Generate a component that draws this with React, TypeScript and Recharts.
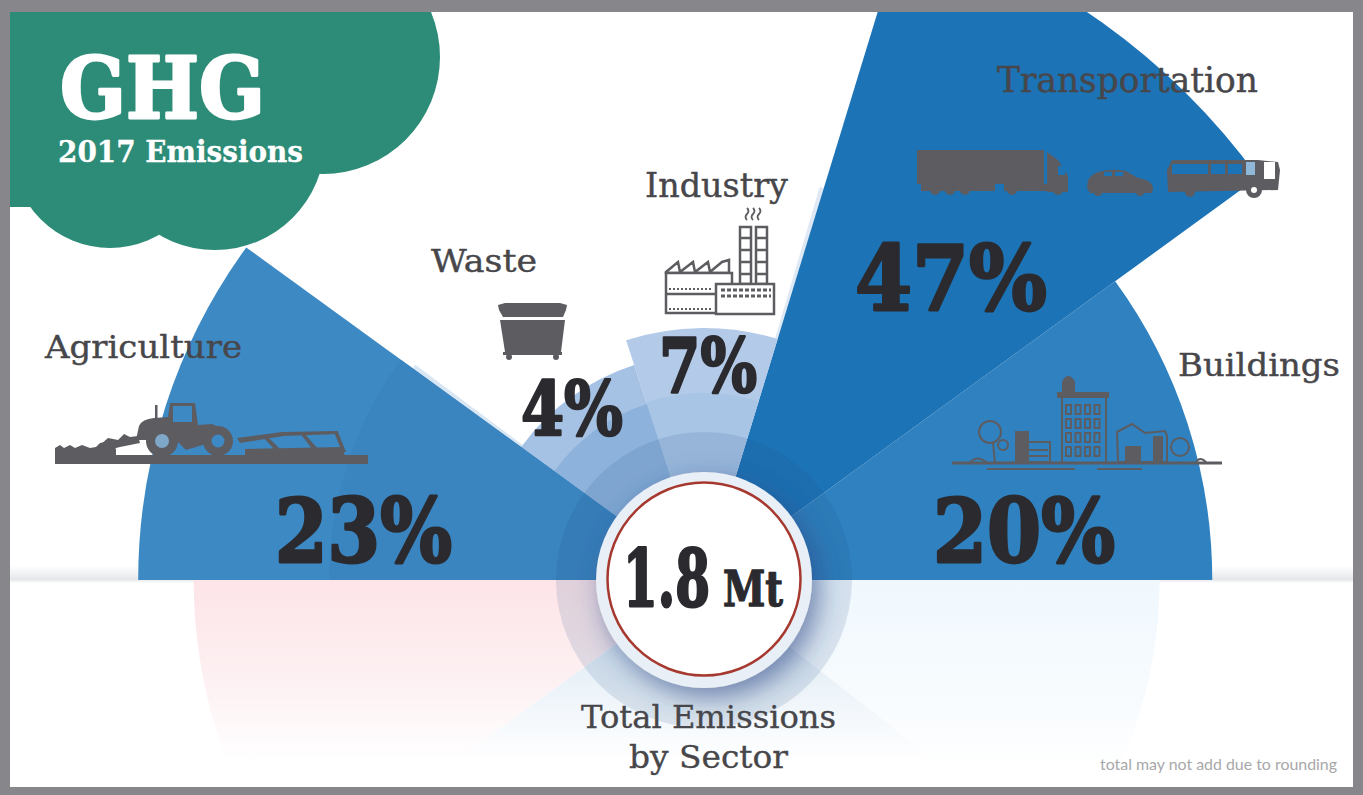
import React from 'react'
import { PieChart, Pie } from 'recharts'

// sectors run anticlockwise from the right-hand baseline
const categories = ['Buildings', 'Transportation', 'Industry', 'Waste', 'Agriculture']
const sharePercent = [20, 47, 7, 4, 23]
// wedge sweep in degrees and wedge length as % of the longest one
const sweepDegrees = [36, 37, 35, 36, 36]
const reachPercent = [74.2, 100, 36.8, 33, 82.6]
const bandPercent = [0, 0, 27.3, 27, 54.7]

const mirrorSweep = [38, 106, 36]
const mirrorReach = [66.5, 62, 74.5]

const totalMt = '1.8'

const WIDTH = 1363
const HEIGHT = 795
const CX = 704
const CY = 580
const MAX_R = 685

const wedgeColors = ['#2f81bf', '#1c73b6', '#b3cbe9', '#a5c1e3', '#3d89c4']
const bandColors = ['#2f81bf', '#1c73b6', '#a9c5e5', '#8db2dc', '#3a84bf']
const mirrorColors = ['url(#mirrorBlue)', 'url(#mirrorMid)', 'url(#mirrorPink)']

const GREY = '#5d5c61'
const INK = '#2a2a2f'
const LABEL = '#47474b'
const SLAB = '"DejaVu Serif", serif'

const startAngles = sweepDegrees.map((_, i) => sweepDegrees.slice(0, i).reduce((a, b) => a + b, 0))
const rows = categories.map((name, i) => ({ name, value: sharePercent[i] }))

interface LabelProps {
  x: number
  y: number
  w: number
  size: number
  fill: string
  bold?: boolean
  family?: string
  stretch?: number
  heavy?: number
  children: React.ReactNode
}

function Label({ x, y, w, size, fill, bold, family, stretch = 1, heavy = 0, children }: LabelProps) {
  return (
    <text
      transform={`translate(${x} ${y}) scale(1 ${stretch})`}
      textLength={w}
      lengthAdjust="spacingAndGlyphs"
      fontSize={size}
      fill={fill}
      stroke={heavy ? fill : 'none'}
      strokeWidth={heavy}
      strokeLinejoin="round"
      fontWeight={bold ? 700 : 400}
      fontFamily={family ?? SLAB}
    >
      {children}
    </text>
  )
}

function TractorIcon() {
  return (
    <g fill={GREY}>
      <rect x={55} y={455} width={313} height={9} />
      <polygon points="55,448 60,445 64,448 70,445 75,448 82,445 90,448 96,447 100,443 110,441 116,449 116,456 55,456" />
      <polygon points="100,445 108,438 118,440 124,434 130,437 138,436 140,443 120,447 112,449" />
      <path d="M136 440 L139 426 Q142 419 154 418 L168 417 L170 403 L195 403 L198 425 L212 424 Q224 428 226 438 L186 450 L176 440 L150 440 Z" />
      <rect x={173} y={406} width={19} height={16} fill="#3d89c4" />
      <rect x={155} y={405} width={2.5} height={13} />
      <circle cx={162} cy={441} r={16} />
      <circle cx={162} cy={441} r={7} fill="#7fa8c8" />
      <circle cx={218} cy={441} r={15} />
      <circle cx={218} cy={441} r={6.5} fill="#3d89c4" />
      <polygon points="237,438 282,432 338,431 338,434 284,436 240,443" />
      <polygon points="245,449 342,447 345,456 245,456" />
      <polygon points="262,436 266,435 280,449 274,449" />
      <polygon points="300,433 304,433 318,449 312,449" />
      <polygon points="334,432 338,432 346,452 342,452" />
    </g>
  )
}

function DumpsterIcon() {
  return (
    <g fill={GREY}>
      <polygon points="498,305 505,303 560,303 567,305 566,310 563,317 503,317 499,310" />
      <polygon points="500,320 565,320 561,352 505,352" />
      <rect x={503} y={352} width={59} height={3} />
      <circle cx={509} cy={357} r={3} />
      <circle cx={556} cy={357} r={3} />
    </g>
  )
}

function FactoryIcon() {
  return (
    <g fill="none" stroke={GREY} strokeWidth={2.5}>
      <path d="M666 272 L678 262 L680 272 L693 262 L695 272 L708 262 L710 272 L722 262 L729 260 L729 273 L666 273 Z" />
      <rect x={666} y={273} width={66} height={40} fill="#fff" />
      <line x1={666} y1={294} x2={715} y2={294} />
      <rect x={740} y={227} width={11} height={57} fill="#fff" />
      <rect x={756} y={227} width={11} height={57} fill="#fff" />
      <path d="M740 238h11M740 250h11M740 262h11M740 274h11M756 238h11M756 250h11M756 262h11M756 274h11" />
      <rect x={716} y={284} width={58} height={30} fill="#fff" />
      <path d="M721 290h50M721 296h50" strokeDasharray="4 2" strokeWidth={3} />
      <path d="M669 289h44M669 309h44" strokeDasharray="2 2" strokeWidth={2} />
      <path d="M747 208q3 3 0 6q-3 3 0 6M753 208q3 3 0 6q-3 3 0 6M759 208q3 3 0 6q-3 3 0 6" strokeWidth={1.8} />
    </g>
  )
}

function TransportIcons() {
  return (
    <g fill={GREY}>
      <rect x={917} y={150} width={127} height={34} />
      <path d="M1047 152 L1058 160 L1068 176 L1068 192 L1047 192 Z" />
      <rect x={1058} y={166} width={7} height={9} fill="#1c73b6" />
      <rect x={921} y={184} width={74} height={7} />
      <rect x={1004} y={184} width={46} height={7} />
      <circle cx={935} cy={190} r={5} />
      <circle cx={950} cy={190} r={5} />
      <circle cx={965} cy={190} r={5} />
      <circle cx={1012} cy={190} r={5} />
      <circle cx={1058} cy={190} r={5} />
      <path d="M1088 180 Q1092 174 1098 172 Q1112 168 1126 171 L1138 178 Q1152 180 1153 188 L1152 193 L1090 193 L1087 188 Z" />
      <rect x={1104} y={172} width={8} height={4} fill="#1c73b6" />
      <rect x={1115} y={172} width={8} height={4} fill="#1c73b6" />
      <circle cx={1098} cy={192} r={4} />
      <circle cx={1140} cy={192} r={4} />
      <path d="M1172 160 L1258 160 L1278 162 L1280 170 L1278 190 L1168 192 L1167 170 Z" />
      <rect x={1172} y={164} width={36} height={10} fill="#1c73b6" />
      <rect x={1211} y={164} width={14} height={10} fill="#1c73b6" />
      <rect x={1228} y={164} width={14} height={10} fill="#1c73b6" />
      <rect x={1246} y={162} width={9} height={13} fill="#8fb8d8" />
      <rect x={1264} y={162} width={11} height={17} fill="#fff" />
      <circle cx={1254} cy={190} r={8} />
      <circle cx={1254} cy={190} r={3} fill="#fff" />
      <circle cx={1190} cy={192} r={5} />
    </g>
  )
}

function CityIcon() {
  const windows: React.ReactNode[] = []
  for (let c = 0; c < 4; c++) {
    for (let r = 0; r < 4; r++) {
      windows.push(<rect key={`${c}-${r}`} x={1066 + c * 9.5} y={405 + r * 14} width={5} height={9} />)
    }
  }
  return (
    <g fill="none" stroke={GREY} strokeWidth={2}>
      <line x1={952} y1={463} x2={1222} y2={463} strokeWidth={3} />
      <line x1={987} y1={469} x2={1075} y2={469} />
      <line x1={1097} y1={469} x2={1142} y2={469} />
      <rect x={1062} y={397} width={44} height={66} />
      <rect x={1058} y={393} width={50} height={4} fill={GREY} />
      <path d="M1063 393 L1063 382 Q1068 372 1074 382 L1074 393 Z" fill={GREY} />
      {windows}
      <circle cx={990} cy={432} r={11} />
      <line x1={993} y1={443} x2={995} y2={463} />
      <circle cx={1003} cy={445} r={5} />
      <rect x={1016} y={432} width={12} height={30} fill={GREY} />
      <rect x={1024} y={442} width={26} height={20} />
      <path d="M1028 450h20M1028 456h20" />
      <path d="M1117 432 L1132 424 L1145 433 L1165 431 L1167 436 L1167 462 L1118 462 Z" />
      <rect x={1126} y={447} width={14} height={15} fill={GREY} />
      <rect x={1154} y={437} width={8} height={25} fill={GREY} />
      <circle cx={1180} cy={447} r={9} />
      <path d="M1196 462 Q1200 456 1206 462" />
      <path d="M970 462 Q978 455 986 462" />
    </g>
  )
}

export default function App() {
  return (
    <div style={{ position: 'absolute', left: 0, top: 0, width: WIDTH, height: HEIGHT, background: '#fff', overflow: 'hidden' }}>
      <svg width={WIDTH} height={HEIGHT} style={{ position: 'absolute', left: 0, top: 0 }}>
        <defs>
          <linearGradient id="baseline" x1="0" y1="0" x2="0" y2="1">
            <stop offset="0" stopColor="#d3d7dd" stopOpacity={0} />
            <stop offset="0.8" stopColor="#d3d7dd" stopOpacity={0.6} />
            <stop offset="1" stopColor="#d3d7dd" stopOpacity={0} />
          </linearGradient>
        </defs>
        <rect x={10} y={566} width={1343} height={17} fill="url(#baseline)" />
      </svg>

      <div style={{ position: 'absolute', left: 0, top: 0 }}>
        <PieChart width={WIDTH} height={HEIGHT} margin={{ top: 0, right: 0, bottom: 0, left: 0 }}>
          <defs>
            <linearGradient id="mirrorPink" gradientUnits="userSpaceOnUse" x1={0} y1={CY} x2={0} y2={760}>
              <stop offset="0" stopColor="#fde4e8" />
              <stop offset="0.55" stopColor="#fdf0f2" />
              <stop offset="1" stopColor="#ffffff" />
            </linearGradient>
            <linearGradient id="mirrorBlue" gradientUnits="userSpaceOnUse" x1={0} y1={CY} x2={0} y2={770}>
              <stop offset="0" stopColor="#f0f8fe" />
              <stop offset="0.6" stopColor="#f7fbfe" />
              <stop offset="1" stopColor="#ffffff" />
            </linearGradient>
            <linearGradient id="mirrorMid" gradientUnits="userSpaceOnUse" x1={0} y1={650} x2={0} y2={760}>
              <stop offset="0" stopColor="#e2edf6" />
              <stop offset="1" stopColor="#ffffff" />
            </linearGradient>
          </defs>

          {/* pale reflection under the baseline */}
          {mirrorSweep.map((sweep, i) => {
            const start = -mirrorSweep.slice(0, i).reduce((a, b) => a + b, 0)
            return (
              <Pie
                key={`mirror-${i}`}
                data={[{ name: `mirror-${i}`, value: 1, fill: mirrorColors[i] }]}
                dataKey="value"
                cx={CX}
                cy={CY}
                innerRadius={0}
                outerRadius={(mirrorReach[i] / 100) * MAX_R}
                startAngle={start}
                endAngle={start - sweep}
                fill={mirrorColors[i]}
                stroke="none"
                isAnimationActive={false}
              />
            )
          })}

          {/* thin pale slivers beside the long wedges */}
          <Pie
            data={[{ name: 'sliver-a', value: 1, fill: '#dfe9f5' }]}
            dataKey="value"
            cx={CX}
            cy={CY}
            outerRadius={410}
            startAngle={startAngles[2] - 1}
            endAngle={startAngles[2] + 0.6}
            stroke="none"
            fill="#dfe9f5"
            isAnimationActive={false}
          />
          <Pie
            data={[{ name: 'sliver-b', value: 1, fill: '#d9e6f3' }]}
            dataKey="value"
            cx={CX}
            cy={CY}
            outerRadius={360}
            startAngle={startAngles[4] - 0.7}
            endAngle={startAngles[4] + 1}
            stroke="none"
            fill="#d9e6f3"
            isAnimationActive={false}
          />

          {rows.map((row, i) => (
            <Pie
              key={row.name}
              data={[{ ...row, fill: wedgeColors[i] }]}
              dataKey="value"
              nameKey="name"
              cx={CX}
              cy={CY}
              innerRadius={0}
              outerRadius={(reachPercent[i] / 100) * MAX_R}
              startAngle={startAngles[i]}
              endAngle={startAngles[i] + sweepDegrees[i]}
              fill={wedgeColors[i]}
              stroke="none"
              isAnimationActive={false}
            />
          ))}

          {/* inner tone bands */}
          {rows.map((row, i) =>
            bandPercent[i] > 0 ? (
              <Pie
                key={`band-${row.name}`}
                data={[{ ...row, fill: bandColors[i] }]}
                dataKey="value"
                cx={CX}
                cy={CY}
                innerRadius={0}
                outerRadius={(bandPercent[i] / 100) * MAX_R}
                startAngle={startAngles[i]}
                endAngle={startAngles[i] + sweepDegrees[i]}
                fill={bandColors[i]}
                stroke="none"
                isAnimationActive={false}
              />
            ) : null,
          )}
        </PieChart>
      </div>

      <svg width={WIDTH} height={HEIGHT} style={{ position: 'absolute', left: 0, top: 0 }}>
        <defs>
          <filter id="discShadow" x="-40%" y="-40%" width="190%" height="190%">
            <feDropShadow dx={7} dy={9} stdDeviation={13} floodColor="#2a4a86" floodOpacity={0.6} />
          </filter>
        </defs>

        <circle cx={CX} cy={CY} r={148} fill="#1f4a86" fillOpacity={0.13} />

        {/* cloud */}
        <g fill="#2c8c77">
          <circle cx={323} cy={57} r={117} />
          <circle cx={215} cy={140} r={110} />
          <circle cx={110} cy={150} r={98} />
          <rect x={10} y={12} width={313} height={150} />
          <rect x={10} y={150} width={100} height={57} />
        </g>
        <Label x={60} y={118} w={205} size={76} stretch={1.12} heavy={2.5} fill="#fff" bold>GHG</Label>
        <Label x={58} y={162} w={245} size={28} stretch={1.05} heavy={0.3} fill="#fff" bold>2017 Emissions</Label>

        <TractorIcon />
        <DumpsterIcon />
        <FactoryIcon />
        <TransportIcons />
        <CityIcon />

        <Label x={997} y={92} w={261} size={30} stretch={1.15} heavy={0.4} fill={LABEL}>{categories[1]}</Label>
        <Label x={645} y={197} w={143} size={32} stretch={1.05} heavy={0.4} fill={LABEL}>{categories[2]}</Label>
        <Label x={431} y={272} w={106} size={31} heavy={0.4} fill={LABEL}>{categories[3]}</Label>
        <Label x={45} y={358} w={197} size={32} heavy={0.4} fill={LABEL}>{categories[4]}</Label>
        <Label x={1178} y={376} w={162} size={31} heavy={0.4} fill={LABEL}>{categories[0]}</Label>

        <Label x={855} y={310} w={192} size={80} stretch={1.13} heavy={2.5} fill={INK} bold>{sharePercent[1]}%</Label>
        <Label x={275} y={562} w={177} size={74} stretch={1.18} heavy={2.5} fill={INK} bold>{sharePercent[4]}%</Label>
        <Label x={933} y={562} w={182} size={76} stretch={1.15} heavy={2.5} fill={INK} bold>{sharePercent[0]}%</Label>
        <Label x={659} y={392} w={98} size={58} stretch={1.28} heavy={2} fill={INK} bold>{sharePercent[2]}%</Label>
        <Label x={521} y={435} w={102} size={60} stretch={1.24} heavy={2} fill={INK} bold>{sharePercent[3]}%</Label>

        {/* centre disc */}
        <circle cx={CX} cy={CY} r={108} fill="#e9eff7" filter="url(#discShadow)" />
        <circle cx={CX} cy={CY - 1} r={96.5} fill="#fff" stroke="#a6392f" strokeWidth={2.5} />
        <Label x={623} y={606} w={87} size={54} stretch={1.45} heavy={2} fill={INK} bold>{totalMt}</Label>
        <Label x={723} y={606} w={60} size={37} stretch={1.32} heavy={1} fill={INK} bold>Mt</Label>

        <Label x={581} y={728} w={255} size={28} stretch={1.15} heavy={0.3} fill={LABEL}>Total Emissions</Label>
        <Label x={629} y={768} w={159} size={28} stretch={1.15} heavy={0.3} fill={LABEL}>by Sector</Label>
        <Label x={1100} y={770} w={237} size={15} fill="#a8a8aa" family="Lato, sans-serif">total may not add due to rounding</Label>

        {/* grey frame */}
        <path
          fillRule="evenodd"
          fill="#87868b"
          d={`M0 0H${WIDTH}V${HEIGHT}H0Z M10 12V787H1353V12Z`}
        />
      </svg>
    </div>
  )
}
